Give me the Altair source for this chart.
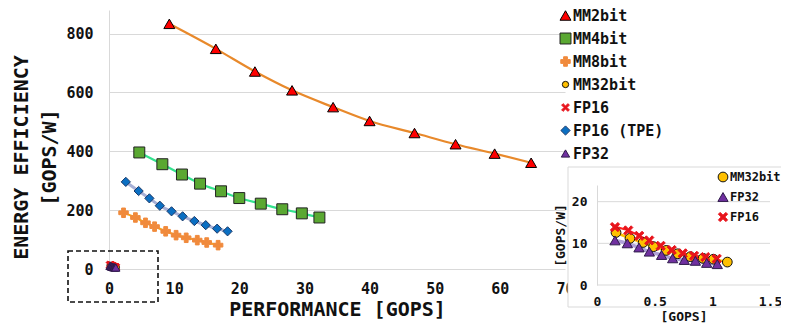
import altair as alt
import pandas as pd

FONT = "DejaVu Sans Mono"

series_names = ["MM2bit", "MM4bit", "MM8bit", "MM32bit", "FP16", "FP16 (TPE)", "FP32"]

mm2_x = [9.26, 16.4, 22.4, 28.1, 34.4, 40.0, 46.9, 53.2, 59.2, 64.8]
mm2_y = [833, 748, 671, 607, 550, 503, 462, 424, 392, 361]
mm4_x = [4.65, 8.19, 11.2, 13.98, 17.2, 20.0, 23.3, 26.6, 29.6, 32.3]
mm4_y = [396, 356, 321, 290, 264, 241, 222, 203, 189, 175]
mm8_x = [2.23, 4.05, 5.6, 7.0, 8.7, 10.3, 11.85, 13.55, 15.0, 16.75]
mm8_y = [191, 175, 157, 144, 128, 115, 106, 98, 90, 81]
tpe_x = [2.58, 4.55, 6.2, 7.8, 9.6, 11.3, 13.1, 14.85, 16.6, 18.2]
tpe_y = [296, 265, 240, 215, 196, 179, 163, 149, 137, 128]
mm32_x = [0.165, 0.286, 0.40, 0.49, 0.60, 0.70, 0.81, 0.92, 1.01, 1.13]
mm32_y = [12.6, 11.2, 10.2, 9.2, 8.3, 7.5, 6.8, 6.4, 6.2, 5.5]
fp32_x = [0.156, 0.263, 0.364, 0.454, 0.56, 0.656, 0.757, 0.853, 0.951, 1.043]
fp32_y = [10.7, 10.0, 9.0, 8.0, 7.2, 6.4, 6.0, 5.8, 5.3, 5.0]
fp16_x = [0.156, 0.271, 0.366, 0.453, 0.552, 0.648, 0.743, 0.841, 0.939, 1.038]
fp16_y = [13.9, 13.1, 11.8, 10.7, 9.4, 8.4, 7.6, 7.0, 6.7, 6.3]

x_ticks_main = [0, 10, 20, 30, 40, 50, 60, 70]
y_ticks_main = [0, 200, 400, 600, 800]
x_ticks_inset = [0, 0.5, 1, 1.5]
y_ticks_inset = [0, 10, 20]

X_PATH = ("M-1,-0.62L-0.62,-1L0,-0.38L0.62,-1L1,-0.62L0.38,0L1,0.62L0.62,1"
          "L0,0.38L-0.62,1L-1,0.62L-0.38,0Z")

shapes = ["triangle-up", "square", "cross", "circle", X_PATH, "diamond", "triangle-up"]
fills = ["#FF0000", "#5AA832", "#F08A3C", "#FFC000", "#E8141C", "#0B6FC2", "#7030A0"]
strokes = ["#000000", "#222222", "#F08A3C", "#111111", "#E8141C", "#1A3868", "#2E1A4A"]
line_colors = ["#E8892B", "#33E38E", "#F9A61B", "#FFC000", "#FF2020", "#A7B0D6", "#B0A2D8"]
line_widths = [2.2, 2.2, 2.2, 2, 1.5, 3, 3]
main_sizes = [120, 120, 90, 40, 60, 85, 70]

inset_names = ["MM32bit", "FP32", "FP16"]
inset_sizes = [95, 105, 85]

data = {
    "MM2bit": (mm2_x, mm2_y), "MM4bit": (mm4_x, mm4_y), "MM8bit": (mm8_x, mm8_y),
    "MM32bit": (mm32_x, mm32_y), "FP16": (fp16_x, fp16_y),
    "FP16 (TPE)": (tpe_x, tpe_y), "FP32": (fp32_x, fp32_y),
}
rows = []
for name, (xs, ys) in data.items():
    for i, (a, b) in enumerate(zip(xs, ys)):
        rows.append({"series": name, "x": a, "y": b, "i": i})
df = pd.DataFrame(rows)
inset_df = df[df.series.isin(inset_names)]

W, H = 456, 259
GRID = "#D9D9D9"

# ---------------- main chart ----------------
xm = alt.X("x:Q", scale=alt.Scale(domain=[0, 70], nice=False, zero=False),
           axis=alt.Axis(values=x_ticks_main, title="PERFORMANCE [GOPS]", grid=False,
                         domain=False, ticks=False, labelPadding=12, labelFlush=False,
                         labelFont=FONT, labelFontSize=15, labelFontWeight="bold",
                         labelColor="#111", titleFont=FONT, titleFontSize=20,
                         titleFontWeight="bold", titleColor="#111", titlePadding=3))
ym = alt.Y("y:Q", scale=alt.Scale(domain=[0, 880], nice=False),
           axis=alt.Axis(values=y_ticks_main, title=["ENERGY EFFICIENCY", "[GOPS/W]"],
                         grid=True, gridColor=GRID, domain=True, domainColor=GRID,
                         ticks=False, labelPadding=16, labelFlush=False, labelFont=FONT,
                         labelFontSize=15, labelFontWeight="bold", labelColor="#111",
                         titleFont=FONT, titleFontSize=20, titleFontWeight="bold",
                         titleColor="#111", titleAngle=270, titleAlign="center",
                         titleBaseline="top", titleX=-98, titleY=147, titleLineHeight=28))

main_layers = []
for name, c, w in zip(series_names, line_colors, line_widths):
    main_layers.append(
        alt.Chart(df).transform_filter(alt.datum.series == name)
        .mark_line(color=c, strokeWidth=w, interpolate="monotone")
        .encode(x=xm, y=ym, order="i:Q")
    )

leg_main = alt.Legend(title=None, orient="none", legendX=449, legendY=-2, padding=0,
                      labelFont=FONT, labelFontSize=15, labelFontWeight="bold",
                      labelColor="#111", rowPadding=7, labelOffset=0, symbolStrokeWidth=1)
main_points = alt.Chart(df).mark_point(filled=True, opacity=1, strokeWidth=1).encode(
    x=xm, y=ym,
    shape=alt.Shape("series:N", scale=alt.Scale(domain=series_names, range=shapes), legend=leg_main),
    fill=alt.Fill("series:N", scale=alt.Scale(domain=series_names, range=fills), legend=leg_main),
    stroke=alt.Stroke("series:N", scale=alt.Scale(domain=series_names, range=strokes), legend=leg_main),
    size=alt.Size("series:N", scale=alt.Scale(type="ordinal", domain=series_names, range=main_sizes),
                  legend=leg_main),
)

dummy = pd.DataFrame({"k": [0]})
zoom_box = alt.Chart(dummy).mark_rect(fillOpacity=0, stroke="#111", strokeWidth=1.6,
                                      strokeDash=[5, 3]).encode(
    x=alt.value(-41), x2=alt.value(49), y=alt.value(241), y2=alt.value(292))

main = alt.layer(*main_layers, main_points, zoom_box)

# ---------------- inset ----------------
xi = alt.X("x:Q", scale=alt.Scale(domain=[0, 1.5], range=[488, 661], nice=False, zero=False),
           axis=alt.Axis(orient="bottom", offset=16, values=x_ticks_inset, grid=False,
                         domain=False, ticks=False, zindex=1, labelPadding=10,
                         labelFlush=False,
                         labelExpr="format(datum.value, '~g')", title="[GOPS]",
                         labelFont=FONT, labelFontSize=13, labelFontWeight="bold",
                         labelColor="#111", titleFont=FONT, titleFontSize=13,
                         titleFontWeight="bold", titleColor="#111", titlePadding=2))
yi = alt.Y("y:Q", scale=alt.Scale(domain=[0, 24], range=[275, 175], nice=False),
           axis=alt.Axis(orient="left", offset=-488, values=y_ticks_inset, grid=False,
                         domain=True, domainColor=GRID, ticks=False, zindex=1,
                         labelPadding=10, labelFlush=False, title="[GOPS/W]", labelFont=FONT,
                         labelFontSize=13, labelFontWeight="bold", labelColor="#111",
                         titleFont=FONT, titleFontSize=13, titleFontWeight="bold",
                         titleColor="#111", titlePadding=4))

frame = alt.Chart(dummy).mark_rect(fill="white", stroke=GRID, strokeWidth=1).encode(
    x=alt.value(459), x2=alt.value(720), y=alt.value(157), y2=alt.value(297))

grid_df = pd.DataFrame({"y": y_ticks_inset})
inset_grid = alt.Chart(grid_df).mark_rule(color=GRID, strokeWidth=1).encode(
    y=yi, x=alt.datum(0, scale=alt.Scale(domain=[0, 1.5], range=[488, 661])),
    x2=alt.datum(1.5))

inset_lines = []
for name in inset_names:
    k = series_names.index(name)
    inset_lines.append(
        alt.Chart(inset_df).transform_filter(alt.datum.series == name)
        .mark_line(color=line_colors[k], strokeWidth=line_widths[k] + 0.5, interpolate="monotone")
        .encode(x=xi, y=yi, order="i:Q")
    )

leg_in = alt.Legend(title=None, orient="none", legendX=608, legendY=161, padding=0,
                    labelFont=FONT, labelFontSize=12, labelFontWeight="bold",
                    labelColor="#111", rowPadding=6, labelOffset=1, symbolStrokeWidth=1)
idx = [series_names.index(n) for n in inset_names]
inset_points = alt.Chart(inset_df).mark_point(filled=True, opacity=1, strokeWidth=1).encode(
    x=xi, y=yi,
    shape=alt.Shape("series:N", scale=alt.Scale(domain=inset_names, range=[shapes[k] for k in idx]),
                    legend=leg_in),
    fill=alt.Fill("series:N", scale=alt.Scale(domain=inset_names, range=[fills[k] for k in idx]),
                  legend=leg_in),
    stroke=alt.Stroke("series:N", scale=alt.Scale(domain=inset_names, range=[strokes[k] for k in idx]),
                      legend=leg_in),
    size=alt.Size("series:N", scale=alt.Scale(type="ordinal", domain=inset_names, range=inset_sizes),
                  legend=leg_in),
)

inset = alt.layer(frame, inset_grid, *inset_lines, inset_points)

chart = alt.layer(main, inset).resolve_scale(
    x="independent", y="independent", shape="independent", fill="independent",
    stroke="independent", size="independent"
).resolve_axis(x="independent", y="independent").resolve_legend(
    shape="independent", fill="independent", stroke="independent", size="independent"
).properties(
    width=W, height=H,
    autosize=alt.AutoSizeParams(type="none"),
    padding={"left": 101, "top": 2, "right": 216, "bottom": 59},
).configure_view(strokeWidth=0)

chart.save("out.html", embed_options={"renderer": "svg", "actions": False})
